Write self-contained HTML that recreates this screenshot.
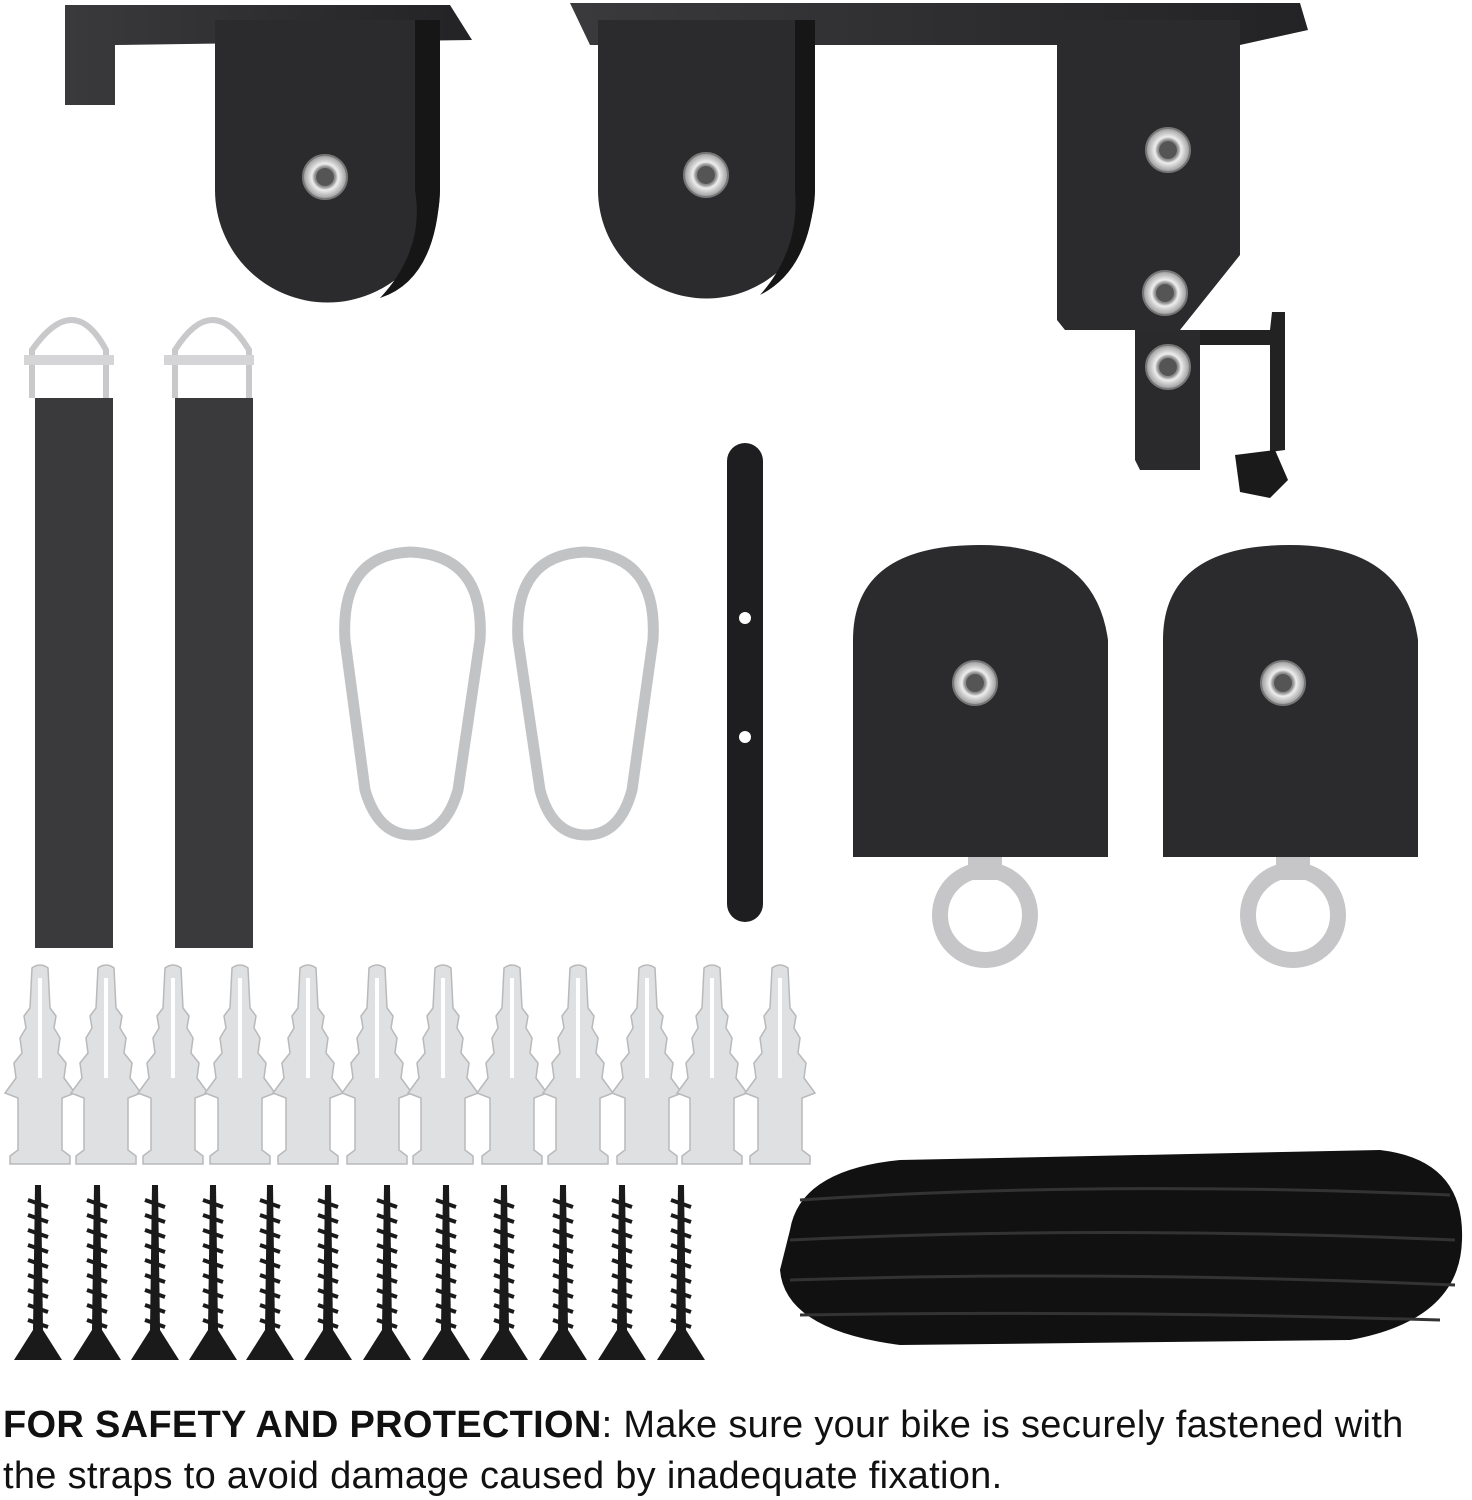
<!DOCTYPE html>
<html><head><meta charset="utf-8"><style>
html,body{margin:0;padding:0;background:#fff;}
body{width:1472px;height:1500px;overflow:hidden;position:relative;font-family:"Liberation Sans",Arial,sans-serif;}
.t{position:absolute;left:3px;font-size:38px;line-height:44px;color:#111;white-space:nowrap;letter-spacing:0.3px}
</style></head><body>
<svg width="1472" height="1390" viewBox="0 0 1472 1390" style="position:absolute;left:0;top:0">
<defs>
<linearGradient id="pl" x1="0" y1="0" x2="1" y2="0"><stop offset="0" stop-color="#3a3a3c"/><stop offset="1" stop-color="#232325"/></linearGradient>
<radialGradient id="gr"><stop offset="0" stop-color="#fff"/><stop offset="0.45" stop-color="#888"/><stop offset="0.6" stop-color="#eee"/><stop offset="1" stop-color="#999"/></radialGradient>
<g id="grom"><circle r="22" fill="url(#gr)" stroke="#777" stroke-width="2"/><circle r="9" fill="#555"/></g>
<g id="anchor"><path d="M-8,0 Q0,-6 8,0 L10,40 L16,48 L14,60 L20,70 L18,85 L26,95 L24,110 L35,125 L22,130 L22,182 L30,188 L30,196 L-30,196 L-30,188 L-22,182 L-22,130 L-35,125 L-24,110 L-26,95 L-18,85 L-20,70 L-14,60 L-16,48 L-10,40 Z" fill="#dfe0e1" stroke="#b8b9bb" stroke-width="1.5"/><line x1="0" y1="10" x2="0" y2="110" stroke="#fff" stroke-width="4"/></g>
<g id="screw"><path d="M-3,0 L3,0 L5,145 L24,175 L-24,175 L-5,145 Z" fill="#1a1a1a"/><path d="M-10,15 L10,22 M-10,30 L10,37 M-10,45 L10,52 M-10,60 L10,67 M-10,75 L10,82 M-10,90 L10,97 M-10,105 L10,112 M-10,120 L10,127 M-10,135 L10,142" stroke="#1a1a1a" stroke-width="4"/></g>
</defs>
<path d="M65,5 L450,5 L472,40 L115,45 L115,105 L65,105 Z" fill="url(#pl)"/>
<path d="M215,20 L440,20 L440,190 A112,112 0 0 1 215,190 Z" fill="#2b2b2d"/>
<path d="M415,20 L440,20 L440,190 Q436,280 380,298 Q425,250 415,190 Z" fill="#161617"/>
<use href="#grom" x="325" y="177"/>
<path d="M570,3 L1300,3 L1308,30 L1240,45 L590,45 Z" fill="url(#pl)"/>
<path d="M598,20 L815,20 L815,190 A108,108 0 0 1 598,190 Z" fill="#2b2b2d"/>
<path d="M795,20 L815,20 L815,190 Q810,270 760,295 Q800,250 795,190 Z" fill="#161617"/>
<use href="#grom" x="706" y="175"/>
<path d="M1057,20 L1240,20 L1240,255 L1180,330 L1065,330 L1057,320 Z" fill="#2b2b2d"/>
<path d="M1135,330 L1200,330 L1200,470 L1140,470 L1135,460 Z" fill="#2a2a2c"/>
<path d="M1200,330 L1270,330 L1272,312 L1285,312 L1285,450 L1270,452 L1270,345 L1200,345 Z" fill="#222"/>
<path d="M1235,455 L1275,450 L1288,480 L1270,498 L1240,492 Z" fill="#1a1a1a"/>
<use href="#grom" x="1168" y="150"/><use href="#grom" x="1165" y="293"/><use href="#grom" x="1168" y="367"/>
<g fill="none" stroke="#c9c9cb" stroke-width="6"><path d="M32,398 L32,350 Q74,290 106,350 L106,398"/><path d="M175,398 L175,350 Q213,290 249,350 L249,398"/></g>
<rect x="24" y="355" width="90" height="10" fill="#d5d5d7"/><rect x="164" y="355" width="90" height="10" fill="#d5d5d7"/>
<rect x="35" y="398" width="78" height="550" fill="#3a3a3c"/><rect x="175" y="398" width="78" height="550" fill="#3a3a3c"/>
<g fill="none" stroke="#c2c3c5" stroke-width="11">
<path d="M345,640 Q340,555 410,552 Q485,555 480,640 L458,790 Q445,835 412,835 Q378,835 365,790 Z"/>
<path d="M518,640 Q513,555 585,552 Q658,555 653,640 L632,790 Q620,835 586,835 Q552,835 540,790 Z"/>
</g>
<rect x="727" y="443" width="36" height="479" rx="18" fill="#1e1e20"/>
<circle cx="745" cy="618" r="6" fill="#fff"/><circle cx="745" cy="737" r="6" fill="#fff"/>
<g><circle cx="985" cy="915" r="45" fill="none" stroke="#c6c6c8" stroke-width="16"/><rect x="968" y="850" width="34" height="30" fill="#c6c6c8"/>
<path d="M853,640 Q853,545 980,545 Q1095,545 1108,640 L1108,857 L853,857 Z" fill="#2b2b2d"/><use href="#grom" x="975" y="683"/></g>
<g><circle cx="1293" cy="915" r="45" fill="none" stroke="#c6c6c8" stroke-width="16"/><rect x="1276" y="850" width="34" height="30" fill="#c6c6c8"/>
<path d="M1163,640 Q1163,545 1290,545 Q1405,545 1418,640 L1418,857 L1163,857 Z" fill="#2b2b2d"/><use href="#grom" x="1283" y="683"/></g>
<use href="#anchor" x="40" y="968"/><use href="#anchor" x="106" y="968"/><use href="#anchor" x="173" y="968"/><use href="#anchor" x="240" y="968"/><use href="#anchor" x="308" y="968"/><use href="#anchor" x="377" y="968"/><use href="#anchor" x="443" y="968"/><use href="#anchor" x="512" y="968"/><use href="#anchor" x="578" y="968"/><use href="#anchor" x="647" y="968"/><use href="#anchor" x="712" y="968"/><use href="#anchor" x="780" y="968"/>
<use href="#screw" x="38" y="1185"/><use href="#screw" x="97" y="1185"/><use href="#screw" x="155" y="1185"/><use href="#screw" x="213" y="1185"/><use href="#screw" x="270" y="1185"/><use href="#screw" x="328" y="1185"/><use href="#screw" x="387" y="1185"/><use href="#screw" x="446" y="1185"/><use href="#screw" x="504" y="1185"/><use href="#screw" x="563" y="1185"/><use href="#screw" x="622" y="1185"/><use href="#screw" x="681" y="1185"/>
<path d="M790,1230 Q800,1170 900,1160 L1380,1150 Q1465,1160 1462,1240 Q1460,1320 1350,1340 L900,1345 Q785,1330 780,1270 Z" fill="#111"/>
<g fill="none" stroke="#333" stroke-width="3"><path d="M800,1200 Q1100,1180 1450,1195"/><path d="M790,1240 Q1100,1225 1455,1240"/><path d="M790,1280 Q1100,1270 1455,1285"/><path d="M800,1315 Q1100,1310 1440,1320"/></g>
</svg>
<div class="t" style="top:1403px"><b>FOR SAFETY AND PROTECTION</b>: Make sure your bike is securely fastened with</div>
<div class="t" style="top:1454px">the straps to avoid damage caused by inadequate fixation.</div>
</body></html>
